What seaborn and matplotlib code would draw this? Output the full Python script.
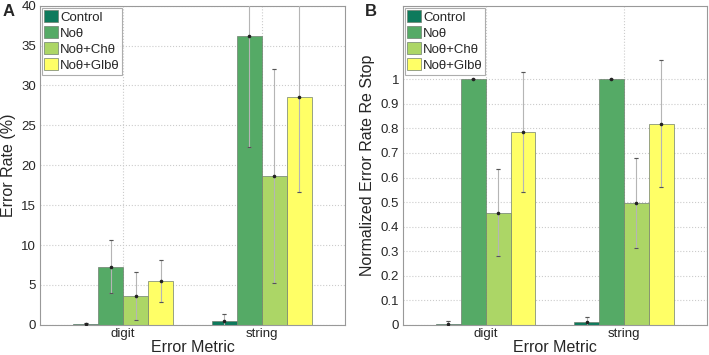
import matplotlib
matplotlib.use("Agg")
import matplotlib.pyplot as plt
import seaborn as sns
import pandas as pd

# data
metrics = ["digit", "string"]
conditions = ["Control", "Noθ", "Noθ+Chθ", "Noθ+Glbθ"]
colors = ["#0e7a5c", "#55aa66", "#acd666", "#ffff66"]

rate_digit = [0.15, 7.3, 3.6, 5.5]
rate_string = [0.45, 36.2, 18.7, 28.6]
rate_err_digit = [0.1, 3.3, 3.0, 2.6]
rate_err_string = [0.85, 13.9, 13.4, 12.0]

norm_digit = [0.005, 1.0, 0.457, 0.785]
norm_string = [0.01, 1.0, 0.497, 0.82]
norm_err_digit = [0.012, 0.0, 0.178, 0.245]
norm_err_string = [0.02, 0.0, 0.183, 0.26]


def long_df(vals_d, vals_s, err_d, err_s):
    rows = []
    for c, v, e in zip(conditions, vals_d, err_d):
        rows.append({"metric": "digit", "cond": c, "value": v, "err": e})
    for c, v, e in zip(conditions, vals_s, err_s):
        rows.append({"metric": "string", "cond": c, "value": v, "err": e})
    return pd.DataFrame(rows)


sns.set_style("white")
plt.rcParams["font.family"] = ["Liberation Sans", "DejaVu Sans"]

fig = plt.figure(figsize=(7.09, 3.55), dpi=100)
axA = fig.add_axes([0.056, 0.085, 0.431, 0.899])
axB = fig.add_axes([0.568, 0.085, 0.429, 0.899])


def panel(ax, df, ylim, yticks, ylabel, ytlabels):
    sns.barplot(data=df, x="metric", y="value", hue="cond", order=metrics,
                hue_order=conditions, palette=colors, errorbar=None,
                width=0.72, gap=0, edgecolor="#6f7f6f", linewidth=0.5,
                saturation=1, ax=ax, zorder=2)
    bars = list(ax.containers)
    # error bars placed on the bar centres drawn by seaborn
    for ci, cont in enumerate(bars):
        sub = df[df["cond"] == conditions[ci]].set_index("metric").loc[metrics]
        xs = [p.get_x() + p.get_width() / 2 for p in cont.patches]
        ax.errorbar(xs, sub["value"], yerr=sub["err"], fmt="none",
                    ecolor="#b5b5b5", elinewidth=0.8, capsize=1.2,
                    capthick=0.8, zorder=3)
        ax.errorbar(xs, sub["value"], yerr=sub["err"], fmt="none",
                    ecolor="#555555", elinewidth=0, capsize=1.2,
                    capthick=0.8, zorder=3)
        ax.scatter(xs, sub["value"], s=2.5, color="#222222", zorder=4)
    ax.set_xlim(-0.6, 1.6)
    ax.set_ylim(*ylim)
    ax.set_yticks(yticks)
    ax.set_yticklabels(ytlabels)
    ax.set_xlabel("Error Metric", fontsize=11.5, labelpad=0)
    ax.set_ylabel(ylabel, fontsize=11.5, labelpad=4)
    ax.tick_params(axis="both", direction="in", length=3, labelsize=9.5,
                   color="#888888", pad=2.5)
    ax.grid(True, linestyle=":", color="#cccccc", linewidth=0.8, zorder=0)
    ax.set_axisbelow(True)
    for s in ax.spines.values():
        s.set_color("#999999")
        s.set_linewidth(0.8)
    leg = ax.legend(loc="upper left", fontsize=9.5, frameon=True,
                    fancybox=False, edgecolor="#999999", handlelength=1.05,
                    handleheight=1.0, handletextpad=0.15, borderpad=0.2,
                    labelspacing=0.2, borderaxespad=0.15)
    leg.get_frame().set_linewidth(0.8)
    leg.set_zorder(5)


dfA = long_df(rate_digit, rate_string, rate_err_digit, rate_err_string)
dfB = long_df(norm_digit, norm_string, norm_err_digit, norm_err_string)

yA = list(range(0, 45, 5))
panel(axA, dfA, (0, 40), yA, "Error Rate (%)", [str(v) for v in yA])

yB = [round(0.1 * i, 1) for i in range(11)]
yB_lab = ["0"] + [f"{v:.1f}" for v in yB[1:-1]] + ["1"]
panel(axB, dfB, (0, 1.3), yB, "Normalized Error Rate Re Stop", yB_lab)

fig.text(0.004, 0.955, "A", fontsize=12, fontweight="bold")
fig.text(0.515, 0.955, "B", fontsize=12, fontweight="bold")

fig.savefig("out.png", dpi=100)
